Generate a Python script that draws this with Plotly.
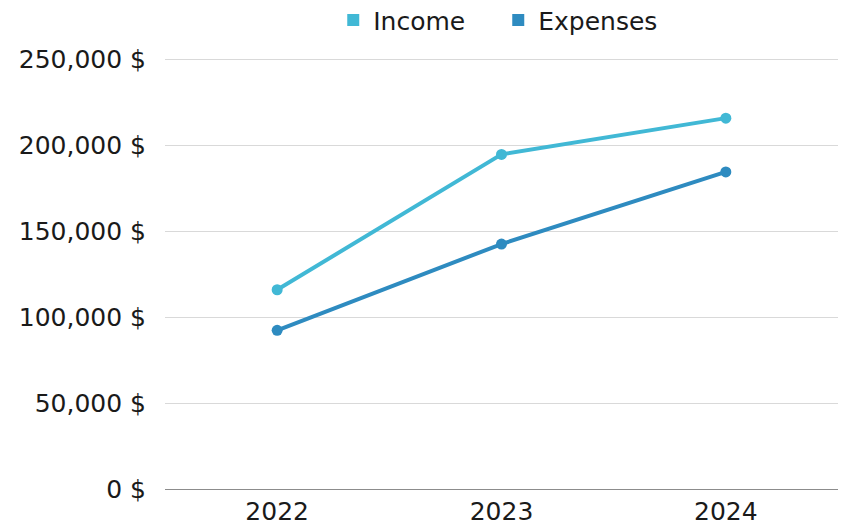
import plotly.graph_objects as go

years = ["2022", "2023", "2024"]
income = [116000, 194800, 215900]
expenses = [92400, 142600, 184600]
series_names = ["Income", "Expenses"]
colors = ["#41B8D5", "#2E8BC0"]
y_ticks = [0, 50000, 100000, 150000, 200000, 250000]
y_tick_labels = [f"{v:,} $" for v in y_ticks]

FONT = "DejaVu Sans"
FS = 25

fig = go.Figure()
for name, vals, col in zip(series_names, [income, expenses], colors):
    fig.add_trace(go.Scatter(
        x=years, y=vals, mode="lines+markers", name=name,
        line=dict(color=col, width=4), marker=dict(color=col, size=11),
        showlegend=False, hoverinfo="skip"))
for name, col in zip(series_names, colors):
    fig.add_trace(go.Scatter(
        x=[None], y=[None], mode="markers", name=name,
        marker=dict(color=col, size=12, symbol="square"), showlegend=True))

# page body has an 8px margin, so the figure is sized to fill 847x526 from (8,8)
fig.update_layout(
    width=839, height=518,
    margin=dict(l=157, r=9, t=49, b=37, autoexpand=False),
    paper_bgcolor="white", plot_bgcolor="white",
    font=dict(family=FONT, size=FS, color="#1a1a1a"),
    legend=dict(orientation="h", x=0.25, xanchor="left", y=1.085, yanchor="middle",
                font=dict(size=FS),
                entrywidth=120, entrywidthmode="pixels", traceorder="normal"),
    showlegend=True,
)
fig.update_xaxes(type="category", range=[-0.5, 2.5], showgrid=False,
                 showline=True, linecolor="#8c8c8c", linewidth=1,
                 ticks="", tickfont=dict(size=FS), automargin=False)
fig.update_yaxes(range=[0, 251500], tickvals=y_ticks, ticktext=y_tick_labels,
                 showgrid=True, gridcolor="#d9d9d9", gridwidth=1,
                 zeroline=False, showline=False, ticks="", automargin=False,
                 ticklabelstandoff=18, tickfont=dict(size=FS))

fig.write_html("out.html")
